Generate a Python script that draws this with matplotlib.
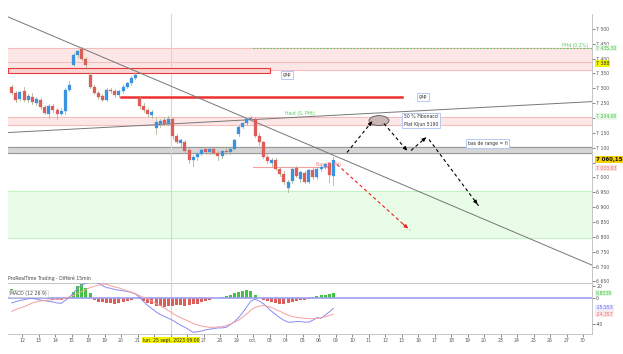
import matplotlib.pyplot as plt
from matplotlib.patches import Rectangle, Ellipse
import matplotlib.transforms as mtransforms

# 2h candles, CAC 40, 11 sept -> 6 oct 2023 (3 candles on 11 sept, then 4 per day)
opens = [7305, 7285, 7265,
         7292, 7262, 7272, 7252,
         7262, 7238, 7215, 7240,
         7228, 7215, 7222, 7295,
         7380, 7412, 7432, 7398,
         7345, 7305, 7284, 7275,
         7262, 7295, 7290, 7278,
         7290, 7305, 7318, 7335,
         7268, 7242, 7226, 7210,
         7165, 7180, 7192, 7180,
         7195, 7138, 7115, 7120,
         7092, 7058, 7068, 7080,
         7095, 7085, 7094, 7082,
         7072, 7090, 7084, 7096,
         7145, 7170, 7182, 7196,
         7198, 7140, 7118, 7070,
         7050, 7060, 7030, 7012,
         6965, 6988, 7032, 6995,
         7015, 6985, 7025, 7000,
         7030, 7036, 7048, 7005]
highs = [7310, 7290, 7292,
         7305, 7282, 7285, 7270,
         7268, 7245, 7248, 7248,
         7235, 7232, 7300, 7325,
         7418, 7430, 7440, 7405,
         7350, 7310, 7290, 7282,
         7300, 7302, 7296, 7295,
         7310, 7322, 7340, 7352,
         7272, 7250, 7232, 7226,
         7200, 7195, 7202, 7208,
         7205, 7145, 7130, 7125,
         7100, 7075, 7085, 7098,
         7104, 7100, 7100, 7090,
         7092, 7098, 7100, 7130,
         7175, 7188, 7200, 7208,
         7205, 7150, 7122, 7080,
         7066, 7064, 7036, 7020,
         6990, 7035, 7040, 7022,
         7020, 7030, 7035, 7035,
         7042, 7048, 7052, 7068]
lows = [7280, 7255, 7260,
        7258, 7255, 7248, 7245,
        7230, 7212, 7200, 7220,
        7198, 7210, 7215, 7290,
        7375, 7405, 7395, 7370,
        7300, 7280, 7265, 7258,
        7258, 7285, 7272, 7270,
        7285, 7300, 7312, 7330,
        7235, 7220, 7205, 7200,
        7145, 7170, 7175, 7178,
        7130, 7115, 7105, 7085,
        7050, 7040, 7060, 7075,
        7080, 7078, 7078, 7060,
        7065, 7078, 7080, 7092,
        7140, 7165, 7178, 7190,
        7135, 7110, 7065, 7050,
        7040, 7025, 7005, 6978,
        6950, 6982, 7000, 6985,
        6980, 6980, 6995, 6995,
        7022, 7030, 6985, 6975]
closes = [7285, 7262, 7288,
          7262, 7275, 7255, 7265,
          7238, 7218, 7240, 7228,
          7215, 7225, 7295, 7310,
          7412, 7425, 7400, 7378,
          7305, 7284, 7270, 7262,
          7295, 7290, 7278, 7290,
          7305, 7318, 7335, 7346,
          7242, 7226, 7212, 7220,
          7188, 7190, 7180, 7195,
          7138, 7120, 7125, 7090,
          7058, 7070, 7080, 7092,
          7085, 7094, 7082, 7072,
          7088, 7084, 7096, 7125,
          7170, 7182, 7196, 7200,
          7140, 7118, 7070, 7056,
          7060, 7030, 7012, 6985,
          6985, 7030, 7005, 7018,
          6985, 7025, 7000, 7030,
          7036, 7044, 7008, 7060.15]

macd = [-7, -5, -3, -2, -0.5, 0, -1, -2.5, -3.5, -4.5, -5.5, -7, -7.5, -3, 2, 9,
        16, 21, 24, 26, 27, 24, 20, 17, 16, 14, 13, 12, 11, 9.5, 7, 2,
        -5, -11, -16, -21, -25, -28, -31, -34, -38, -42, -45, -49, -53, -52, -51, -49,
        -48, -47, -46, -46, -45, -41, -36, -30, -22, -13, -4, -1, -4, -8, -14, -20,
        -25, -30, -34, -37, -37, -36, -36, -37, -37, -34, -30, -31, -26, -21, -15.553]
signal = [-20, -17, -15, -13, -10, -7, -5, -4, -3, -2.5, -2, -1.5, -1, 0.5, 2.5, 5,
          8, 11, 14, 17, 19, 21, 22.5, 22, 20, 18, 16.5, 14, 12, 10, 7.5, 4.5,
          1.5, -1, -4, -8, -11, -15, -19, -23, -27, -30, -33, -36, -39, -41, -43, -44,
          -45, -45, -44.5, -44, -42.5, -40, -37, -34, -29, -24, -18, -14, -12, -11, -12, -14,
          -17, -20, -23, -26, -28, -29.5, -30.5, -31, -31.5, -31.5, -31, -30, -28.5, -26.5, -24.357]
hist = [15, 13, 10, 9, 8, 6, 4, 2, 0.5, -1.5, -2.5, -3, -2.5, -1, 3, 10,
        20, 23, 16, 8, -3, -5, -6, -7, -7, -8, -7, -6, -4, -2, 1, -1,
        -4, -7, -9, -11, -12, -13, -12, -11, -10, -10, -11, -10, -9, -8, -6, -4,
        -2, 0.5, 1.5, 2.5, 4, 6, 8, 10, 12, 13, 11, 5, 1, -2, -4, -6,
        -7, -8, -8, -7, -6, -4, -3, -2, -0.5, 2, 3.5, 5, 6, 7.5, 8.8]

day_labels = ['12', '13', '14', '15', '18', '19', '20', '21', '22', '25', '26', '27',
              '28', '29', 'oct.', '03', '04', '05', '06', '09', '10', '11', '12', '13',
              '16', '17', '18', '19', '20', '23', '24', '25', '26', '27', '30']
hidden_days = [8, 9, 10]

# levels
zone_top = [7435.3, 7360]
zone_top_mid = 7388
zone_mid = [7204.95, 7178]
gray_band = [7081, 7101]
green_zone = [6795, 6955]
gap_line = 7272
gap_box = [7352, 7369]
low_line = 7033.63
last_price = 7060.15
hidden_prices = [7200, 7050]   # covered by the price badges

fig = plt.figure(figsize=(6.23, 3.54), dpi=100)
W, H = 623, 354
ax = fig.add_axes([8 / W, 1 - 282 / H, 584 / W, 268 / H])
axm = fig.add_axes([8 / W, 1 - 334 / H, 584 / W, 51 / H])

def kx(px):
    # pixel x -> candle index
    return 2.5 + (px - 22) / 4.125

def py(p):
    # pixel y -> price
    return 7000 + (178 - p) * 3.356

xmin, xmax = kx(8), kx(592)
fs = 3.3
tcol = '#555555'

# zones
ax.axhspan(zone_top[1], zone_top[0], color='#fde6e6', zorder=0)
for v in [zone_top[0], zone_top_mid, zone_top[1]]:
    ax.axhline(v, color='#f4b4b4', lw=0.6, zorder=1)
ax.axhspan(zone_mid[1], zone_mid[0], color='#fde6e6', zorder=0)
for v in zone_mid:
    ax.axhline(v, color='#f4b4b4', lw=0.6, zorder=1)
ax.axhspan(gray_band[0], gray_band[1], color='#d6d6d6', zorder=0)
for v in gray_band:
    ax.axhline(v, color='#9a9a9a', lw=0.8, zorder=1)
ax.axhspan(green_zone[0], green_zone[1], color='#e8fce8', zorder=0)
for v in green_zone:
    ax.axhline(v, color='#bdf0bd', lw=0.6, zorder=1)

ax.add_patch(Rectangle((xmin, gap_box[0]), kx(270) - xmin, gap_box[1] - gap_box[0],
                       fc='#fbd3d3', ec='#e83a3a', lw=0.8, zorder=2))
ax.plot([kx(121), kx(402)], [gap_line, gap_line], color='#ee3030', lw=1.8, zorder=2)
ax.plot([kx(253), xmax], [zone_top[0], zone_top[0]], color='#5cc85c', lw=0.8,
        ls=(0, (1.5, 1.5)), zorder=2)
ax.plot([kx(253), kx(330)], [low_line, low_line], color='#f2a0a0', lw=0.8, zorder=2)

# trend lines
ax.plot([xmin, xmax], [py(17), py(266)], color='#777777', lw=0.7, zorder=2)
ax.plot([xmin, xmax], [py(133), py(102)], color='#777777', lw=0.7, zorder=2)

# vertical cursor line
for a in (ax, axm):
    a.axvline(kx(171), color='#f7c8c8', lw=0.8, zorder=1)

# candles
for i in range(len(closes)):
    up = closes[i] >= opens[i]
    c = '#3a93e0' if up else '#dd5d58'
    ax.plot([i, i], [lows[i], highs[i]], color='#a9b896', lw=0.6, zorder=3)
    lo, hi = min(opens[i], closes[i]), max(opens[i], closes[i])
    ax.add_patch(Rectangle((i - 0.35, lo), 0.7, max(hi - lo, 1.5), fc=c, ec=c,
                           lw=0.2, zorder=4))

# projected arrows
def dashed_arrow(x0, y0, x1, y1, col):
    ax.plot([kx(x0), kx(x1)], [py(y0), py(y1)], color=col, lw=0.8,
            ls=(0, (3, 2.5)), zorder=5)
    sx = kx(x1) - 0.12 * (kx(x1) - kx(x0))
    sy = py(y1) - 0.12 * (py(y1) - py(y0))
    ax.annotate('', xy=(kx(x1), py(y1)), xytext=(sx, sy),
                arrowprops=dict(arrowstyle='-|>', color=col, lw=0.8,
                                mutation_scale=5), zorder=6)

ax.add_patch(Ellipse((kx(379), py(121)), 20 / 4.125, 10 * 3.356,
                     fc='#ccb5b5', ec='#555555', lw=0.6, zorder=5))
dashed_arrow(347, 153, 372, 122, 'black')
dashed_arrow(384, 124, 407, 151, 'black')
dashed_arrow(411, 151, 426, 138, 'black')
dashed_arrow(429, 140, 479, 207, 'black')
dashed_arrow(337, 165, 410, 231, '#f02020')

# text notes
box = dict(boxstyle='square,pad=0.35', fc='white', ec='#a9c3f2', lw=0.6)
ax.text(kx(283), py(75), 'gap', fontsize=fs, color='#333', bbox=box, va='center', zorder=7)
ax.text(kx(419), py(97), 'gap', fontsize=fs, color='#333', bbox=box, va='center', zorder=7)
ax.text(kx(404), py(121), '50 % Fibonacci\nPlat Kijun 5190', fontsize=fs, color='#333',
        bbox=box, va='center', linespacing=1.6, zorder=7)
ax.text(kx(468), py(144), 'bas de range = fi', fontsize=fs, color='#333', bbox=box,
        va='center', zorder=7)
ax.text(kx(285), py(114), 'Haut (S. PHt)', fontsize=fs, color='#5cc85c', va='center', zorder=7)
ax.text(kx(588), py(46), 'PHd (0.2%)', fontsize=fs, color='#5cc85c', va='center',
        ha='right', zorder=7)
ax.text(kx(316), py(165), 'Bas (S. Ph)', fontsize=fs, color='#f08080', va='center', zorder=7)

# main axes styling
ax.set_xlim(xmin, xmax)
ax.set_ylim(6648, 7550)
ax.yaxis.tick_right()
yt = list(range(6650, 7501, 50))
ax.set_yticks(yt)
ax.set_yticklabels(['' if v in hidden_prices else f'{v:,}'.replace(',', ' ') for v in yt])
ax.tick_params(axis='y', labelsize=fs, colors=tcol, length=2, width=0.5, pad=1)
ax.set_xticks([])
for s in ['top', 'left', 'bottom']:
    ax.spines[s].set_visible(False)
ax.spines['right'].set_color('#bbbbbb')
ax.spines['right'].set_linewidth(0.6)

def badge(a, t, y, fg, bg, bold=False):
    trans = mtransforms.blended_transform_factory(a.transAxes, a.transData)
    a.text(1.006, y, t, transform=trans, fontsize=fs + (0.6 if bold else 0), color=fg,
           va='center', ha='left', fontweight='bold' if bold else 'normal',
           bbox=dict(boxstyle='square,pad=0.15', fc=bg, ec='none'), zorder=10, clip_on=False)

badge(ax, '7 435,30', zone_top[0], '#4cbf4c', '#e8f8e8')
badge(ax, '7 388', zone_top_mid - 4, '#333333', '#f4f400')
badge(ax, '7 204,95', zone_mid[0], '#4cbf4c', '#e8f8e8')
badge(ax, '7 060,15', last_price, '#111111', '#f4d000', bold=True)
badge(ax, '7 033,63', low_line - 2, '#f07070', '#fbe6e6')

# MACD panel
idx = list(range(len(hist)))
axm.bar(idx, hist, width=0.75, color=['#44c244' if h >= 0 else '#dd5d58' for h in hist],
        zorder=2)
axm.axhline(0, color='#9f9ff2', lw=1.2, zorder=3)
axm.plot(idx, macd, color='#8a8af5', lw=0.7, zorder=4)
axm.plot(idx, signal, color='#f5a0a0', lw=0.7, zorder=4)
axm.set_xlim(xmin, xmax)
axm.set_ylim(-55.5, 24.2)
axm.yaxis.tick_right()
axm.set_yticks([20, 0, -40])
axm.set_yticklabels(['20', '0', '-40'])
axm.tick_params(axis='y', labelsize=fs, colors=tcol, length=2, width=0.5, pad=1)
ticks = [2.5 + 4 * d for d in range(len(day_labels))]
axm.set_xticks(ticks)
axm.set_xticklabels(['' if d in hidden_days else l for d, l in enumerate(day_labels)])
axm.tick_params(axis='x', labelsize=fs, colors=tcol, length=2, width=0.5, pad=1)
axm.spines['left'].set_visible(False)
for s in ['top', 'right', 'bottom']:
    axm.spines[s].set_color('#bbbbbb')
    axm.spines[s].set_linewidth(0.6)

badge(axm, '8,8039', 8.8, '#44c244', '#e6f8e6')
badge(axm, '-15,553', -14.5, '#6a6af0', '#ececfc')
badge(axm, '-24,357', -24.357, '#f07070', '#fbe8e8')

axm.text(0.0, 1.04, 'ProRealTime Trading - Différé 15min', transform=axm.transAxes,
         fontsize=fs, color='#444', va='bottom', ha='left')
axm.text(0.003, 0.8, 'MACD (12 26 9)', transform=axm.transAxes, fontsize=fs, color='#444',
         va='center', ha='left', bbox=dict(boxstyle='square,pad=0.25', fc='white',
                                           ec='#cccccc', lw=0.4), zorder=10)
trm = mtransforms.blended_transform_factory(axm.transData, axm.transAxes)
axm.text(kx(171), -0.07, 'lun. 25 sept. 2023 09:00', transform=trm, fontsize=fs,
         color='#222', ha='center', va='top',
         bbox=dict(boxstyle='square,pad=0.2', fc='#f4f400', ec='none'))

fig.savefig('out.png', dpi=100)
